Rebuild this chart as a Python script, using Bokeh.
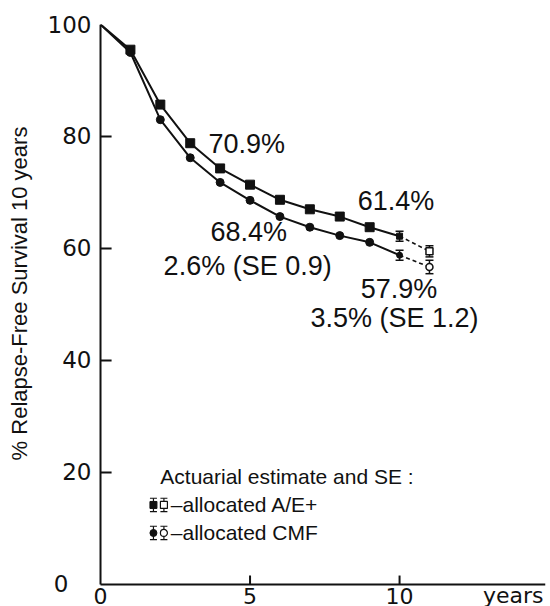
from bokeh.plotting import figure
from bokeh.models import Range1d, FixedTicker, Label, Whisker, ColumnDataSource, TeeHead
from bokeh.core.properties import value
from bokeh.embed import file_html
from bokeh.resources import INLINE

# ---- data ----
years = [0, 1, 2, 3, 4, 5, 6, 7, 8, 9, 10]
ae_surv = [100, 95.5, 85.7, 78.8, 74.3, 71.4, 68.7, 67.0, 65.7, 63.8, 62.2]
cmf_surv = [100, 95.0, 83.0, 76.2, 71.8, 68.6, 65.7, 63.8, 62.3, 61.1, 58.8]
ext_years = [10, 11]
ae_ext = [62.2, 59.5]
cmf_ext = [58.8, 56.7]
ae_se = [0.9, 1.0]
cmf_se = [0.9, 1.2]
x_ticks = [5, 10]
x_tick_values = [0, 5, 10]
x_tick_labels = ["0", "5", "10"]
y_ticks = [20, 40, 60, 80]
y_label_values = [0, 20, 40, 60, 80, 100]

INK = "#111111"
TICK_FONT = "DejaVu Sans"
TEXT_FONT = "Liberation Sans"

X0, X1 = -0.268, 14.88
Y0, Y1 = -3.93, 100

p = figure(width=550, height=606, x_range=Range1d(X0, X1), y_range=Range1d(Y0, Y1),
           output_backend="svg", toolbar_location=None, x_axis_location=None,
           min_border_left=92, min_border_right=5, min_border_top=24, min_border_bottom=0)
p.outline_line_color = None
p.xgrid.visible = False
p.ygrid.visible = False
p.background_fill_color = "white"
p.border_fill_color = "white"

# y axis: labels and title from the library axis, line and ticks drawn at x = 0
ya = p.yaxis[0]
ya.ticker = FixedTicker(ticks=y_label_values)
ya.major_label_overrides = {0: "0\u2003"}
ya.minor_tick_line_color = None
ya.major_tick_line_color = None
ya.major_tick_in = 0
ya.major_tick_out = 0
ya.axis_line_color = None
ya.major_label_text_font = TICK_FONT
ya.major_label_text_font_size = "23px"
ya.major_label_text_color = INK
ya.major_label_standoff = 1
ya.axis_label = "\u2003\u2003% Relapse-Free Survival 10 years"
ya.axis_label_text_font = TEXT_FONT
ya.axis_label_text_font_size = "22px"
ya.axis_label_text_font_style = "normal"
ya.axis_label_text_color = INK
ya.axis_label_standoff = 13

# axis lines and inward ticks
p.segment(x0=[0], y0=[0], x1=[0], y1=[Y1], line_width=2, line_color=INK)
p.segment(x0=[0], y0=[0], x1=[X1], y1=[0], line_width=2, line_color=INK)
p.segment(x0=[0] * len(y_ticks), y0=y_ticks, x1=[0.37] * len(y_ticks), y1=y_ticks,
          line_width=2, line_color=INK)
p.segment(x0=x_ticks, y0=[0] * len(x_ticks), x1=x_ticks, y1=[1.6] * len(x_ticks),
          line_width=2, line_color=INK)

# x tick labels and unit
p.text(x=x_tick_values, y=[-2.0] * len(x_tick_values), text=x_tick_labels,
       text_align="center", text_baseline="middle",
       text_font=value(TICK_FONT), text_font_size="22px", text_color=INK)
p.text(x=[13.8], y=[-2.0], text=["years"], text_align="center", text_baseline="middle",
       text_font=value(TICK_FONT), text_font_size="22px", text_color=INK)

# curves
p.line(years, ae_surv, line_width=2, line_color=INK)
p.line(years, cmf_surv, line_width=2, line_color=INK)
p.scatter(years[1:-1], ae_surv[1:-1], marker="square", size=9, fill_color=INK, line_color=INK)
p.scatter(years[1:-1], cmf_surv[1:-1], marker="circle", size=8, fill_color=INK, line_color=INK)
p.scatter(ext_years[:1], ae_ext[:1], marker="square", size=6, fill_color=INK, line_color=INK)
p.scatter(ext_years[:1], cmf_ext[:1], marker="circle", size=6, fill_color=INK, line_color=INK)

# extrapolated segment and error bars
p.line(ext_years, ae_ext, line_width=1.6, line_color=INK, line_dash="4 3")
p.line(ext_years, cmf_ext, line_width=1.6, line_color=INK, line_dash="4 3")
p.scatter(ext_years[1:], ae_ext[1:], marker="square", size=7, fill_color="white",
          line_color=INK, line_width=1.5)
p.scatter(ext_years[1:], cmf_ext[1:], marker="circle", size=7, fill_color="white",
          line_color=INK, line_width=1.5)

for vals, se in ((ae_ext, ae_se), (cmf_ext, cmf_se)):
    src = ColumnDataSource(dict(base=ext_years,
                                lower=[v - s for v, s in zip(vals, se)],
                                upper=[v + s for v, s in zip(vals, se)]))
    w = Whisker(source=src, base="base", lower="lower", upper="upper", dimension="height",
                line_color=INK, line_width=1.5,
                lower_head=TeeHead(size=8, line_color=INK, line_width=1.5),
                upper_head=TeeHead(size=8, line_color=INK, line_width=1.5))
    p.add_layout(w)

# annotations
ann_style = dict(text_font=TEXT_FONT, text_font_size="27px", text_color=INK,
                 text_baseline="middle", text_align="left")
for xx, yy, txt in [(3.61, 78.6, "70.9%"), (3.68, 63.0, "68.4%"),
                    (2.11, 56.9, "2.6% (SE 0.9)"), (8.6, 68.4, "61.4%"),
                    (8.7, 52.7, "57.9%"), (7.02, 47.5, "3.5% (SE 1.2)")]:
    p.add_layout(Label(x=xx, y=yy, text=txt, **ann_style))

# legend block
leg_style = dict(text_font=TEXT_FONT, text_font_size="21px", text_color=INK,
                 text_baseline="middle", text_align="left")
p.add_layout(Label(x=2.0, y=19.3, text="Actuarial estimate and SE :", **leg_style))
p.add_layout(Label(x=2.35, y=14.2, text="\u2013allocated A/E+", **leg_style))
p.add_layout(Label(x=2.35, y=9.2, text="\u2013allocated CMF", **leg_style))

for yy, mk in ((14.2, "square"), (9.2, "circle")):
    p.scatter([1.77], [yy], marker=mk, size=7, fill_color=INK, line_color=INK)
    p.scatter([2.12], [yy], marker=mk, size=7, fill_color="white", line_color=INK, line_width=1.2)
    src = ColumnDataSource(dict(base=[1.77, 2.12], lower=[yy - 1.2, yy - 1.2], upper=[yy + 1.2, yy + 1.2]))
    p.add_layout(Whisker(source=src, base="base", lower="lower", upper="upper", dimension="height",
                         line_color=INK, line_width=1.2,
                         lower_head=TeeHead(size=7, line_color=INK, line_width=1.2),
                         upper_head=TeeHead(size=7, line_color=INK, line_width=1.2)))

open("out.html", "w").write(file_html(p, INLINE))
